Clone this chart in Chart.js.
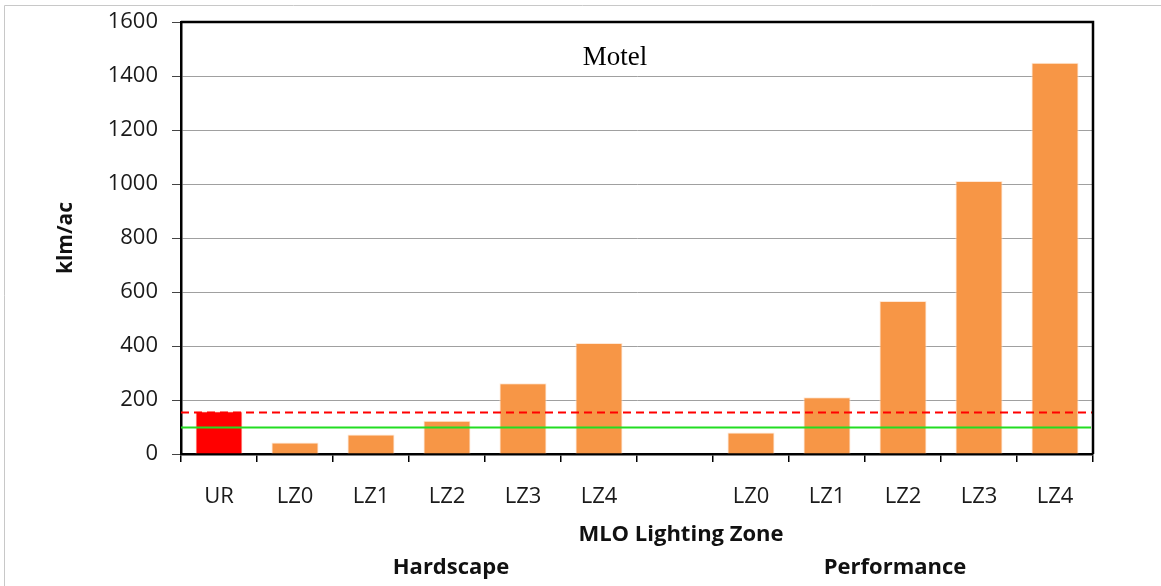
<!DOCTYPE html>
<html>
<head>
<meta charset="utf-8">
<script src="https://cdn.jsdelivr.net/npm/chart.js@4/dist/chart.umd.min.js"></script>
<style>
  html, body { margin: 0; padding: 0; background: #fff; }
</style>
</head>
<body>
<canvas id="motelChart" width="1161" height="586"></canvas>
<script>
// categories along the x axis (blank slot separates the two groups)
const zoneLabels = ['UR', 'LZ0', 'LZ1', 'LZ2', 'LZ3', 'LZ4', '', 'LZ0', 'LZ1', 'LZ2', 'LZ3', 'LZ4'];
// klm/ac per zone
const zoneValues = [158, 43, 72, 123, 262, 411, null, 80, 210, 567, 1011, 1449];
const barColors = ['#FF0000', '#F79646', '#F79646', '#F79646', '#F79646', '#F79646', '#F79646',
    '#F79646', '#F79646', '#F79646', '#F79646', '#F79646'];
// group labels: text, first and last category index
const groupNames = ['Hardscape', 'Performance'];
const groupRanges = [[1, 5], [7, 11]];
// reference lines
const redDashedValue = 154;
const greenLineValue = 100;

const uiFont = "'Open Sans', 'DejaVu Sans', sans-serif";

const extrasPlugin = {
    id: 'extras',
    beforeDraw(chart) {
        const ctx = chart.ctx;
        ctx.save();
        // light frame (only top & left visible)
        ctx.strokeStyle = '#c8c8c8';
        ctx.lineWidth = 1;
        ctx.beginPath();
        ctx.moveTo(4.5, 586);
        ctx.lineTo(4.5, 5.5);
        ctx.lineTo(1161, 5.5);
        ctx.stroke();
        ctx.restore();
    },
    afterDatasetsDraw(chart) {
        const { ctx, chartArea, scales } = chart;
        const y = scales.y;
        const x = scales.x;
        ctx.save();
        // green line
        let py = Math.round(y.getPixelForValue(greenLineValue)) + 0.5;
        ctx.strokeStyle = '#22DD22';
        ctx.lineWidth = 2;
        ctx.beginPath();
        ctx.moveTo(chartArea.left, py);
        ctx.lineTo(chartArea.right - 2, py);
        ctx.stroke();
        // red dashed line
        py = Math.round(y.getPixelForValue(redDashedValue)) + 0.5;
        ctx.strokeStyle = '#FF0000';
        ctx.setLineDash([8, 5]);
        ctx.beginPath();
        ctx.moveTo(chartArea.left, py);
        ctx.lineTo(chartArea.right, py);
        ctx.stroke();
        ctx.setLineDash([]);

        // black frame on top & right of plot
        ctx.strokeStyle = '#000';
        ctx.lineWidth = 2.5;
        ctx.beginPath();
        ctx.moveTo(chartArea.left, chartArea.top);
        ctx.lineTo(chartArea.right, chartArea.top);
        ctx.lineTo(chartArea.right, chartArea.bottom);
        ctx.stroke();

        // title inside plot
        ctx.fillStyle = '#000';
        ctx.font = "27px 'Liberation Serif', 'DejaVu Serif', serif";
        ctx.textAlign = 'center';
        ctx.textBaseline = 'middle';
        ctx.fillText('Motel', x.getPixelForValue(5.21), chartArea.top + 36);

        // axis title & group names
        ctx.font = "bold 22px " + uiFont;
        ctx.fillStyle = '#111';
        ctx.fillText('MLO Lighting Zone', x.getPixelForValue(6) + 6, 535);
        const shifts = [4, -8];
        groupNames.forEach((name, i) => {
            const [a, b] = groupRanges[i];
            const cx = (x.getPixelForValue(a) + x.getPixelForValue(b)) / 2;
            ctx.fillText(name, cx + shifts[i], 568);
        });
        ctx.restore();
    }
};

const ctx = document.getElementById('motelChart').getContext('2d');
const motelChart = new Chart(ctx, {
    type: 'bar',
    data: {
        labels: zoneLabels,
        datasets: [{
            label: 'Motel',
            data: zoneValues,
            backgroundColor: barColors,
            borderColor: 'rgba(255,230,210,0.9)',
            borderWidth: 1,
            categoryPercentage: 1,
            barPercentage: 0.62
        }]
    },
    options: {
        responsive: false,
        animation: false,
        layout: { padding: { left: 0, right: 68, top: 22, bottom: 0 } },
        plugins: {
            legend: { display: false },
            title: { display: false },
            tooltip: { enabled: false }
        },
        scales: {
            x: {
                grid: {
                    offset: true,
                    drawOnChartArea: false,
                    drawTicks: true,
                    tickLength: 8,
                    color: '#000',
                    lineWidth: 1.5
                },
                border: { color: '#000', width: 2.5 },
                ticks: {
                    padding: 22,
                    color: '#1a1a1a',
                    font: { family: uiFont, size: 22 },
                    maxRotation: 0,
                    autoSkip: false
                },
                afterFit(scale) { scale.height = 586 - 454; }
            },
            y: {
                min: 0,
                max: 1600,
                ticks: {
                    stepSize: 200,
                    padding: 14,
                    color: '#1a1a1a',
                    font: { family: uiFont, size: 22 },
                    callback: (v) => String(v)
                },
                grid: {
                    color: '#a0a0a0',
                    lineWidth: 1,
                    tickLength: 9,
                    tickColor: '#444'
                },
                border: { color: '#000', width: 2.5 },
                title: {
                    display: true,
                    text: 'klm/ac',
                    color: '#111',
                    font: { family: uiFont, size: 21, weight: 'bold' },
                    padding: { top: 53, bottom: 0 }
                },
                afterFit(scale) {
                    scale.width = 181;
                    scale.paddingTop = 0;
                    scale.paddingBottom = 0;
                }
            }
        }
    },
    plugins: [extrasPlugin]
});
</script>
</body>
</html>
